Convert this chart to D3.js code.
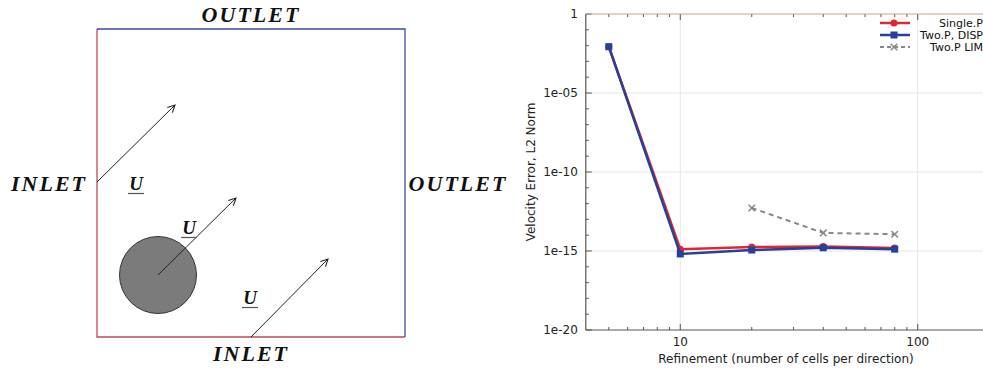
<!DOCTYPE html>
<html>
<head>
<meta charset="utf-8">
<script src="https://cdn.jsdelivr.net/npm/d3@7"></script>
<style>
  body { margin: 0; background: #fff; }
  svg { display: block; }
  .tick-label { font-family: "DejaVu Sans", sans-serif; font-size: 12px; fill: #222; }
  .bc { font-family: "Liberation Serif", serif; font-style: italic; font-weight: bold; font-size: 22px; fill: #111; letter-spacing: 2px; }
</style>
</head>
<body>
<svg id="chart" width="983" height="372"></svg>
<script>
'use strict';

// data
const refinement = [5, 10, 20, 40, 80];
const singleP = [8.5e-3, 1.3e-15, 1.8e-15, 1.9e-15, 1.55e-15];
const twoPDisp = [8.5e-3, 6.5e-16, 1.15e-15, 1.6e-15, 1.3e-15];
const limRefinement = [20, 40, 80];
const twoPLim = [5.3e-13, 1.4e-14, 1.15e-14];
const yTickValues = [1, 1e-5, 1e-10, 1e-15, 1e-20];
const yTickLabels = ['1', '1e-05', '1e-10', '1e-15', '1e-20'];
const xTickValues = [10, 100];
const legendLabels = ['Single.P', 'Two.P, DISP', 'Two.P LIM'];

const svg = d3.select('#chart');

// ---- left: domain sketch ----
const box = {x0: 97, y0: 29, x1: 405, y1: 337};
const sk = svg.append('g');

const defs = svg.append('defs');
defs.append('marker')
    .attr('id', 'arr')
    .attr('viewBox', '0 0 10 10')
    .attr('refX', 9).attr('refY', 5)
    .attr('markerWidth', 9).attr('markerHeight', 9)
    .attr('markerUnits', 'userSpaceOnUse')
    .attr('orient', 'auto')
  .append('path')
    .attr('d', 'M1,1 L9,5 L1,9')
    .attr('fill', 'none')
    .attr('stroke', '#222')
    .attr('stroke-width', 1.2);

// inlet edges (red), outlet edges (blue)
sk.append('path')
    .attr('d', `M${box.x0},${box.y0} L${box.x0},${box.y1} L${box.x1},${box.y1}`)
    .attr('fill', 'none').attr('stroke', '#c0485a').attr('stroke-width', 1.3);
sk.append('path')
    .attr('d', `M${box.x0},${box.y0} L${box.x1},${box.y0} L${box.x1},${box.y1}`)
    .attr('fill', 'none').attr('stroke', '#3a4c9a').attr('stroke-width', 1.3);

sk.append('circle')
    .attr('cx', 158).attr('cy', 275).attr('r', 38.5)
    .attr('fill', '#7b7b7b').attr('stroke', '#333').attr('stroke-width', 1);

const arrows = [
  [[97, 182], [175, 105]],
  [[158, 275], [236, 198]],
  [[251, 337], [328, 259]]
];
sk.selectAll('.arrow')
  .data(arrows)
  .enter().append('line')
    .attr('class', 'arrow')
    .attr('x1', d => d[0][0]).attr('y1', d => d[0][1])
    .attr('x2', d => d[1][0]).attr('y2', d => d[1][1])
    .attr('stroke', '#222').attr('stroke-width', 1)
    .attr('marker-end', 'url(#arr)');

const bcLabels = [
  {t: 'OUTLET', x: 251, y: 22},
  {t: 'INLET', x: 49, y: 191},
  {t: 'OUTLET', x: 458, y: 191},
  {t: 'INLET', x: 251, y: 361}
];
sk.selectAll('.bc')
  .data(bcLabels)
  .enter().append('text')
    .attr('class', 'bc')
    .attr('x', d => d.x).attr('y', d => d.y)
    .attr('text-anchor', 'middle')
    .text(d => d.t);

const uLabels = [[136, 190], [189, 234], [250, 304]];
uLabels.forEach(([x, y]) => {
  sk.append('text').attr('class', 'bc')
      .attr('x', x).attr('y', y).attr('text-anchor', 'middle')
      .style('font-size', '19px').style('letter-spacing', '0px')
      .text('U');
  sk.append('line')
      .attr('x1', x - 8).attr('x2', x + 8)
      .attr('y1', y + 3.5).attr('y2', y + 3.5)
      .attr('stroke', '#555').attr('stroke-width', 1.2);
});

// ---- right: error plot ----
const x = d3.scaleLog().domain([4, 200]).range([585.8, 989.2]);
const y = d3.scaleLog().domain([1e-20, 1]).range([330, 14]);
const [px0, px1] = x.range();
const [py1, py0] = y.range();

const plot = svg.append('g');

// grid
plot.selectAll('.gx').data(xTickValues).enter().append('line')
    .attr('x1', d => x(d)).attr('x2', d => x(d))
    .attr('y1', py0).attr('y2', py1)
    .attr('stroke', '#e6e6e6').attr('stroke-width', 1);
plot.selectAll('.gy').data(yTickValues.slice(1, -1)).enter().append('line')
    .attr('x1', px0).attr('x2', px1)
    .attr('y1', d => y(d)).attr('y2', d => y(d))
    .attr('stroke', '#e6e6e6').attr('stroke-width', 1);

// minor / major ticks (inward)
const xMinor = [];
[1, 10, 100].forEach(p => d3.range(1, 10).forEach(m => {
  const v = p * m;
  if (v > 4 && v < 200) xMinor.push(v);
}));
const yMinor = d3.range(-19, 0).map(e => Math.pow(10, e)).filter(v => !yTickValues.includes(v));

const axisG = plot.append('g').attr('stroke', '#555').attr('stroke-width', 1);
xMinor.forEach(v => {
  const len = xTickValues.includes(v) ? 6 : 3;
  axisG.append('line').attr('x1', x(v)).attr('x2', x(v)).attr('y1', py1).attr('y2', py1 - len);
  axisG.append('line').attr('x1', x(v)).attr('x2', x(v)).attr('y1', py0).attr('y2', py0 + len);
});
yMinor.forEach(v => {
  axisG.append('line').attr('x1', px0).attr('x2', px0 + 3).attr('y1', y(v)).attr('y2', y(v));
});
yTickValues.forEach(v => {
  axisG.append('line').attr('x1', px0).attr('x2', px0 + 6).attr('y1', y(v)).attr('y2', y(v));
});

// frame
plot.append('line').attr('x1', px0).attr('x2', px1).attr('y1', py0).attr('y2', py0)
    .attr('stroke', '#c9a486').attr('stroke-width', 1.2);
plot.append('line').attr('x1', px0).attr('x2', px0).attr('y1', py0).attr('y2', py1)
    .attr('stroke', '#555').attr('stroke-width', 1.2);
plot.append('line').attr('x1', px0).attr('x2', px1).attr('y1', py1).attr('y2', py1)
    .attr('stroke', '#555').attr('stroke-width', 1.2);

// tick labels
plot.selectAll('.yl').data(yTickValues).enter().append('text')
    .attr('class', 'tick-label')
    .attr('x', px0 - 8).attr('y', d => y(d)).attr('dy', '0.35em')
    .attr('text-anchor', 'end')
    .text((d, i) => yTickLabels[i]);
plot.selectAll('.xl').data(xTickValues).enter().append('text')
    .attr('class', 'tick-label')
    .attr('x', d => x(d)).attr('y', py1 + 16)
    .attr('text-anchor', 'middle')
    .text(d => d);

plot.append('text').attr('class', 'tick-label')
    .attr('x', 786).attr('y', 363).attr('text-anchor', 'middle')
    .text('Refinement (number of cells per direction)');
plot.append('text').attr('class', 'tick-label')
    .attr('transform', 'translate(535,172) rotate(-90)')
    .attr('text-anchor', 'middle')
    .text('Velocity Error, L2 Norm');

// series
const line = d3.line().x(d => x(d[0])).y(d => y(d[1]));
const red = '#e3262e', blue = '#27409a', gray = '#888';

const redPts = d3.zip(refinement, singleP);
const bluePts = d3.zip(refinement, twoPDisp);
const grayPts = d3.zip(limRefinement, twoPLim);

plot.append('path').datum(grayPts).attr('d', line)
    .attr('fill', 'none').attr('stroke', gray).attr('stroke-width', 2).attr('stroke-dasharray', '5,4');
plot.append('path').datum(redPts).attr('d', line)
    .attr('fill', 'none').attr('stroke', red).attr('stroke-width', 2.5);
plot.selectAll('.rm').data(redPts).enter().append('circle')
    .attr('cx', d => x(d[0])).attr('cy', d => y(d[1])).attr('r', 3.5).attr('fill', red);
plot.append('path').datum(bluePts).attr('d', line)
    .attr('fill', 'none').attr('stroke', blue).attr('stroke-width', 2.5);
plot.selectAll('.bm').data(bluePts).enter().append('rect')
    .attr('x', d => x(d[0]) - 3.5).attr('y', d => y(d[1]) - 3.5)
    .attr('width', 7).attr('height', 7).attr('fill', blue);

const star = d3.symbol().type(d3.symbolTimes).size(30);
plot.selectAll('.gm').data(grayPts).enter().append('path')
    .attr('transform', d => `translate(${x(d[0])},${y(d[1])})`)
    .attr('d', star).attr('fill', 'none').attr('stroke', gray).attr('stroke-width', 1.5);

// legend
const legY = [23, 35, 47];
const legStyle = [
  {c: red, dash: null, w: 2.5, m: 'circle'},
  {c: blue, dash: null, w: 2.5, m: 'square'},
  {c: gray, dash: '4,3', w: 2, m: 'times'}
];
legendLabels.forEach((lab, i) => {
  const s = legStyle[i];
  const ly = legY[i];
  const l = plot.append('line').attr('x1', 880).attr('x2', 910).attr('y1', ly).attr('y2', ly)
      .attr('stroke', s.c).attr('stroke-width', s.w);
  if (s.dash) l.attr('stroke-dasharray', s.dash);
  if (s.m === 'circle') plot.append('circle').attr('cx', 894).attr('cy', ly).attr('r', 3.5).attr('fill', s.c);
  if (s.m === 'square') plot.append('rect').attr('x', 890.5).attr('y', ly - 3.5).attr('width', 7).attr('height', 7).attr('fill', s.c);
  if (s.m === 'times') plot.append('path').attr('transform', `translate(894,${ly})`).attr('d', star)
      .attr('fill', 'none').attr('stroke', s.c).attr('stroke-width', 1.5);
  plot.append('text').attr('class', 'tick-label')
      .attr('x', 983).attr('y', ly).attr('dy', '0.35em').attr('text-anchor', 'end')
      .style('font-size', '11px').style('fill', '#111')
      .text(lab);
});
</script>
</body>
</html>
